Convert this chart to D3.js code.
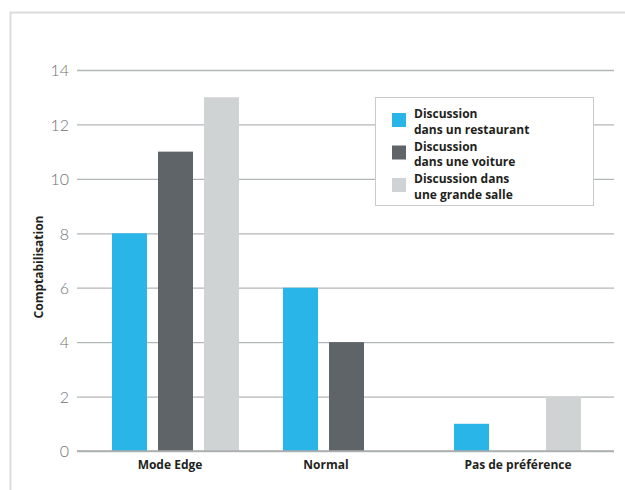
<!DOCTYPE html>
<html><head><meta charset="utf-8">
<script src="https://cdn.jsdelivr.net/npm/d3@7"></script>
<style>body{margin:0;background:#fff}svg{display:block}</style>
</head><body>
<script>
const categories = ["Mode Edge", "Normal", "Pas de préférence"];
const seriesNames = ["Discussion dans un restaurant", "Discussion dans une voiture", "Discussion dans une grande salle"];
const legendLines = [["Discussion", "dans un restaurant"], ["Discussion", "dans une voiture"], ["Discussion dans", "une grande salle"]];
const restaurant = [8, 6, 1];
const voiture = [11, 4, 0];
const grandeSalle = [13, 0, 2];
const yTicks = [0, 2, 4, 6, 8, 10, 12, 14];
const colors = ["#29b5e8", "#5f6468", "#d0d3d4"];
const seriesValues = [restaurant, voiture, grandeSalle];

const W = 625, H = 490;
const BOLD = "'Open Sans', sans-serif";
const svg = d3.select("body").append("svg").attr("width", W).attr("height", H);

// frame
svg.append("path").attr("d", `M10.5,${H} V12.5 H${W}`).attr("fill", "none").attr("stroke", "#dcdcdc").attr("stroke-width", 2);

const y = d3.scaleLinear().domain([0, 14]).range([451, 70]);
const x0 = d3.scaleBand().domain(categories).range([90, 603]);
const x1 = d3.scaleBand().domain(seriesNames).range([-69, 69]).paddingInner(11/46).paddingOuter(11/92);
const labelShift = [-5.5, -20.5, 0.5];

// grid
const gridG = svg.append("g").attr("transform", "translate(77,0)")
  .call(d3.axisLeft(y).tickValues(yTicks).tickSize(-537).tickFormat(""));
gridG.select(".domain").remove();
gridG.selectAll(".tick line").attr("stroke", "#b3b6b8").attr("stroke-width", 1.3);

// tick labels
const yAxis = svg.append("g").attr("transform", "translate(69,0)")
  .call(d3.axisLeft(y).tickValues(yTicks).tickSize(0).tickPadding(0));
yAxis.select(".domain").remove();
yAxis.selectAll("text").attr("font-family", "Lato, sans-serif").attr("font-weight", 300)
  .attr("font-size", 16).attr("fill", "#6f7173").attr("dy", "0.36em");

// bars
const groups = svg.append("g").selectAll("g").data(categories).join("g")
  .attr("transform", d => `translate(${x0(d) + x0.bandwidth()/2},0)`);
groups.selectAll("rect").data((c, i) => seriesNames.map((s, j) => ({s, j, v: seriesValues[j][i]})))
  .join("rect")
  .attr("x", d => x1(d.s)).attr("width", x1.bandwidth())
  .attr("y", d => y(d.v)).attr("height", d => y(0) - y(d.v))
  .attr("fill", d => colors[d.j]);

// baseline redraw
svg.append("line").attr("x1", 77).attr("x2", 614).attr("y1", y(0)).attr("y2", y(0))
  .attr("stroke", "#a9acae").attr("stroke-width", 1.3);

// category labels
svg.append("g").selectAll("text").data(categories).join("text")
  .attr("x", (d, i) => x0(d) + x0.bandwidth()/2 + labelShift[i]).attr("y", 468.5)
  .attr("text-anchor", "middle").attr("font-family", BOLD).attr("font-weight", 700)
  .attr("font-size", 12).attr("fill", "#231f20").text(d => d);

// y title
svg.append("text").attr("transform", "translate(42.5,267) rotate(-90)")
  .attr("text-anchor", "middle").attr("font-family", BOLD).attr("font-weight", 700)
  .attr("font-size", 12).attr("fill", "#231f20").text("Comptabilisation");

// legend
const lg = svg.append("g");
lg.append("rect").attr("x", 375.5).attr("y", 97.5).attr("width", 218).attr("height", 108)
  .attr("fill", "#fff").attr("stroke", "#c8cacc").attr("stroke-width", 1);
const items = lg.selectAll("g").data(seriesNames).join("g")
  .attr("transform", (d, i) => `translate(392,${113 + i * 32.5})`);
items.append("rect").attr("width", 14).attr("height", 14).attr("fill", (d, i) => colors[i]);
items.append("text").attr("x", 22).attr("y", 5)
  .attr("font-family", BOLD).attr("font-weight", 700).attr("font-size", 12).attr("fill", "#231f20")
  .selectAll("tspan").data((d, i) => legendLines[i]).join("tspan")
  .attr("x", 22).attr("dy", (d, k) => k === 0 ? 0 : 15.5).text(d => d);
</script>
</body></html>
